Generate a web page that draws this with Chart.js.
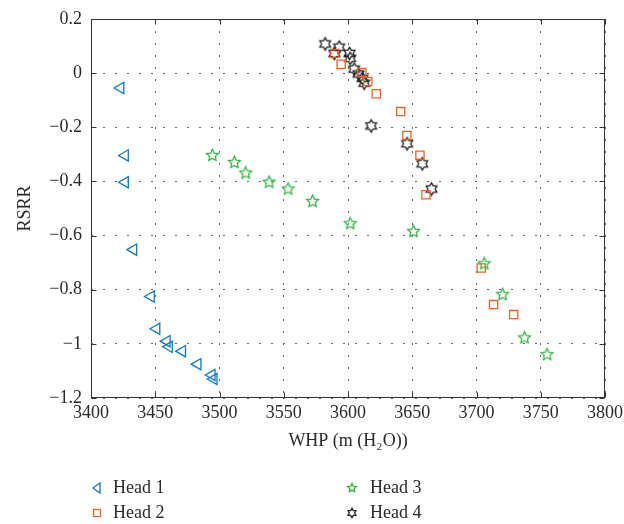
<!DOCTYPE html>
<html><head><meta charset="utf-8">
<script src="https://cdn.jsdelivr.net/npm/chart.js@4/dist/chart.umd.min.js"></script>
<style>html,body{margin:0;padding:0;background:#fff}#c{display:block}</style>
</head><body>
<canvas id="c" width="624" height="524"></canvas>
<script>
const seriesNames = ['Head 1', 'Head 2', 'Head 3', 'Head 4'];
const head1X = [3423, 3426.5, 3426.5, 3433, 3446.7, 3451, 3459, 3460.7, 3471, 3483, 3494, 3495.5];
const head1Y = [-0.055, -0.304, -0.403, -0.652, -0.825, -0.944, -0.99, -1.011, -1.027, -1.075, -1.115, -1.13];
const head2X = [3589.5, 3594.7, 3610.8, 3615.4, 3622, 3641, 3645.8, 3656, 3660.6, 3703.7, 3713.3, 3728.9];
const head2Y = [0.073, 0.033, 0.002, -0.031, -0.076, -0.142, -0.23, -0.303, -0.449, -0.72, -0.855, -0.892];
const head3X = [3494.5, 3511.6, 3520.4, 3538.6, 3553.4, 3572.4, 3601.7, 3651, 3706, 3720.3, 3737.4, 3754.9];
const head3Y = [-0.304, -0.33, -0.369, -0.403, -0.428, -0.474, -0.556, -0.585, -0.704, -0.818, -0.978, -1.04];
const head4X = [3582.2, 3589.3, 3593.1, 3601.2, 3601.7, 3604.8, 3608.2, 3611.3, 3612.6, 3618, 3646, 3657.8, 3665];
const head4Y = [0.108, 0.073, 0.096, 0.073, 0.055, 0.015, -0.003, -0.019, -0.037, -0.195, -0.261, -0.335, -0.428];
const xTicks = [3400, 3450, 3500, 3550, 3600, 3650, 3700, 3750, 3800];
const yTicks = [0.2, 0, -0.2, -0.4, -0.6, -0.8, -1, -1.2];
const xTitle = 'WHP (m (H\u2082O))';
const yTitle = 'RSRR';

const C1 = '#1678c2', C2 = '#f2602a', C3 = '#39b54a', C4 = '#222222';
const FONT = '"Liberation Serif", "Times New Roman", serif';
const TXT = '#2a2a2a';

function starCanvas(n, outer, innerRatio, color, lw) {
  const s = Math.ceil(outer * 2 + lw * 2 + 2);
  const cv = document.createElement('canvas');
  cv.width = s; cv.height = s;
  const g = cv.getContext('2d');
  g.strokeStyle = color; g.lineWidth = lw; g.lineJoin = 'miter';
  g.beginPath();
  for (let i = 0; i < 2 * n; i++) {
    const r = i % 2 === 0 ? outer : outer * innerRatio;
    const a = -Math.PI / 2 + i * Math.PI / n;
    const px = s / 2 + r * Math.cos(a), py = s / 2 + r * Math.sin(a);
    if (i === 0) g.moveTo(px, py); else g.lineTo(px, py);
  }
  g.closePath(); g.stroke();
  return cv;
}
const pent = starCanvas(5, 6.2, 0.48, C3, 1.3);
const hexa = starCanvas(6, 6.2, 0.58, C4, 1.3);
const pentS = starCanvas(5, 4.6, 0.48, C3, 1.4);
const hexaS = starCanvas(6, 4.6, 0.58, C4, 1.3);

function pts(xs, ys) { return xs.map((x, i) => ({x: x, y: ys[i]})); }

const framePlugin = {
  id: 'frame',
  afterDraw(chart) {
    const ctx = chart.ctx, a = chart.chartArea;
    const xs = chart.scales.x, ys = chart.scales.y;
    ctx.save();
    ctx.strokeStyle = '#333'; ctx.lineWidth = 1;
    const L = Math.round(a.left) + 0.5, R = Math.round(a.right) - 0.5;
    const T = Math.round(a.top) + 0.5, B = Math.round(a.bottom) - 0.5;
    ctx.strokeRect(L, T, R - L, B - T);
    ctx.beginPath();
    xTicks.forEach(v => {
      const px = Math.round(xs.getPixelForValue(v)) + 0.5;
      ctx.moveTo(px, B); ctx.lineTo(px, B - 5);
      ctx.moveTo(px, T); ctx.lineTo(px, T + 5);
    });
    yTicks.forEach(v => {
      const py = Math.round(ys.getPixelForValue(v)) + 0.5;
      ctx.moveTo(L, py); ctx.lineTo(L + 5, py);
      ctx.moveTo(R, py); ctx.lineTo(R - 5, py);
    });
    ctx.stroke();
    // legend
    ctx.font = '18px ' + FONT;
    ctx.fillStyle = TXT; ctx.textBaseline = 'middle'; ctx.textAlign = 'left';
    const items = [
      {name: seriesNames[0], mx: 97, tx: 113, y: 488, k: 'tri'},
      {name: seriesNames[1], mx: 97, tx: 113, y: 513, k: 'sq'},
      {name: seriesNames[2], mx: 352, tx: 370, y: 488, k: 'pent'},
      {name: seriesNames[3], mx: 352, tx: 370, y: 513, k: 'hex'}
    ];
    items.forEach(it => {
      ctx.lineWidth = 1.3;
      if (it.k === 'tri') {
        ctx.strokeStyle = C1; ctx.beginPath();
        ctx.moveTo(it.mx - 4, it.y); ctx.lineTo(it.mx + 3, it.y - 5); ctx.lineTo(it.mx + 3, it.y + 5); ctx.closePath(); ctx.stroke();
      } else if (it.k === 'sq') {
        ctx.strokeStyle = C2; ctx.strokeRect(it.mx - 3.5, it.y - 3.5, 7, 7);
      } else if (it.k === 'pent') {
        ctx.drawImage(pentS, it.mx - pentS.width / 2, it.y - pentS.height / 2);
      } else {
        ctx.drawImage(hexaS, it.mx - hexaS.width / 2, it.y - hexaS.height / 2);
      }
      ctx.fillText(it.name, it.tx, it.y);
    });
    ctx.restore();
  }
};

const fmt = v => { const r = Math.round(v * 10) / 10; return (r === 0 ? '0' : String(r)).replace('-', '\u2212'); };

new Chart(document.getElementById('c'), {
  type: 'scatter',
  data: {
    datasets: [
      {label: seriesNames[0], data: pts(head1X, head1Y), pointStyle: 'triangle', rotation: 270, radius: 6.5, borderColor: C1, backgroundColor: 'rgba(0,0,0,0)', borderWidth: 1.3},
      {label: seriesNames[1], data: pts(head2X, head2Y), pointStyle: 'rect', radius: 5.8, borderColor: C2, backgroundColor: 'rgba(0,0,0,0)', borderWidth: 1.3},
      {label: seriesNames[2], data: pts(head3X, head3Y), pointStyle: pent, radius: 6, borderColor: C3, backgroundColor: C3},
      {label: seriesNames[3], data: pts(head4X, head4Y), pointStyle: hexa, radius: 6, borderColor: C4, backgroundColor: C4}
    ]
  },
  options: {
    responsive: false, animation: false, devicePixelRatio: 1,
    layout: {padding: {left: 0, right: 19, top: 19, bottom: 68}},
    plugins: {legend: {display: false}, tooltip: {enabled: false}},
    scales: {
      x: {
        type: 'linear', min: 3400, max: 3800,
        afterBuildTicks: s => { s.ticks = xTicks.map(v => ({value: v})); },
        afterFit: s => { s.height = 58; s.paddingLeft = 0; s.paddingRight = 0; },
        ticks: {font: {family: FONT, size: 18}, color: TXT, padding: 4, maxRotation: 0, autoSkip: false, callback: v => String(v)},
        grid: {color: '#666', lineWidth: 1, drawTicks: false},
        border: {display: false, dash: [2, 10]},
        title: {display: true, text: xTitle, font: {family: FONT, size: 18}, color: TXT, padding: {top: 0, bottom: 4}}
      },
      y: {
        type: 'linear', min: -1.2, max: 0.2,
        afterBuildTicks: s => { s.ticks = yTicks.map(v => ({value: v})); },
        afterFit: s => { s.width = 91; s.paddingTop = 0; s.paddingBottom = 0; },
        ticks: {font: {family: FONT, size: 18}, color: TXT, padding: 9, autoSkip: false, callback: fmt},
        grid: {color: '#666', lineWidth: 1, drawTicks: false},
        border: {display: false, dash: [2, 10]},
        title: {display: true, text: yTitle, font: {family: FONT, size: 18}, color: TXT, padding: {top: 14, bottom: 0}}
      }
    }
  },
  plugins: [framePlugin]
});
</script>
</body></html>
